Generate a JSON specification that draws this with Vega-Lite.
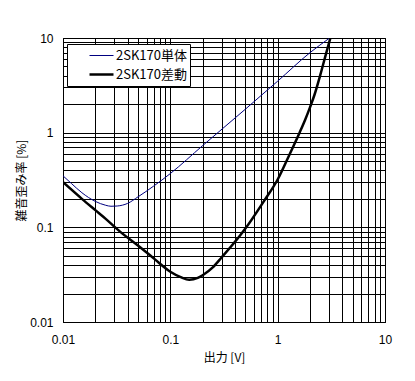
{
  "$schema": "https://vega.github.io/schema/vega-lite/v6.json",
  "width": 322,
  "height": 284,
  "autosize": "none",
  "padding": {"left": 63, "top": 38, "right": 30, "bottom": 59},
  "background": "white",
  "config": {
    "view": {"stroke": "black", "strokeWidth": 1},
    "axis": {
      "grid": true,
      "gridColor": "black",
      "gridOpacity": 1,
      "gridWidth": 1,
      "domainColor": "black",
      "ticks": false,
      "labelFont": "Liberation Sans Narrow, Liberation Sans",
      "labelFontSize": 12,
      "labelColor": "black",
      "labelFlush": false,
      "labelOverlap": false,
      "titleFont": "Noto Sans CJK JP",
      "titleFontSize": 12,
      "titleFontWeight": "normal",
      "titleColor": "black"
    },
    "legend": {
      "orient": "none",
      "legendX": 4,
      "legendY": 6,
      "fillColor": "white",
      "strokeColor": "black",
      "padding": 2,
      "symbolType": "stroke",
      "symbolSize": 576,
      "symbolOffset": 19,
      "labelFont": "Noto Sans CJK JP",
      "labelFontSize": 13,
      "labelColor": "black",
      "labelOffset": 1,
      "clipHeight": 19,
      "rowPadding": 0
    }
  },
  "data": {
    "values": [
      {"series": "2SK170単体", "x": 0.01, "y": 0.35},
      {"series": "2SK170単体", "x": 0.012, "y": 0.29},
      {"series": "2SK170単体", "x": 0.015, "y": 0.232},
      {"series": "2SK170単体", "x": 0.02, "y": 0.188},
      {"series": "2SK170単体", "x": 0.025, "y": 0.171},
      {"series": "2SK170単体", "x": 0.028, "y": 0.167},
      {"series": "2SK170単体", "x": 0.032, "y": 0.168},
      {"series": "2SK170単体", "x": 0.04, "y": 0.179},
      {"series": "2SK170単体", "x": 0.05, "y": 0.21},
      {"series": "2SK170単体", "x": 0.07, "y": 0.273},
      {"series": "2SK170単体", "x": 0.1, "y": 0.37},
      {"series": "2SK170単体", "x": 0.2, "y": 0.73},
      {"series": "2SK170単体", "x": 0.5, "y": 1.77},
      {"series": "2SK170単体", "x": 1, "y": 3.5},
      {"series": "2SK170単体", "x": 2, "y": 7.0},
      {"series": "2SK170単体", "x": 3.05, "y": 10},
      {"series": "2SK170差動", "x": 0.01, "y": 0.3},
      {"series": "2SK170差動", "x": 0.015, "y": 0.2},
      {"series": "2SK170差動", "x": 0.02, "y": 0.152},
      {"series": "2SK170差動", "x": 0.025, "y": 0.123},
      {"series": "2SK170差動", "x": 0.034, "y": 0.09},
      {"series": "2SK170差動", "x": 0.052, "y": 0.062},
      {"series": "2SK170差動", "x": 0.07, "y": 0.047},
      {"series": "2SK170差動", "x": 0.1, "y": 0.034},
      {"series": "2SK170差動", "x": 0.125, "y": 0.0298},
      {"series": "2SK170差動", "x": 0.15, "y": 0.0279},
      {"series": "2SK170差動", "x": 0.18, "y": 0.0292},
      {"series": "2SK170差動", "x": 0.2, "y": 0.0312},
      {"series": "2SK170差動", "x": 0.25, "y": 0.038},
      {"series": "2SK170差動", "x": 0.3, "y": 0.048},
      {"series": "2SK170差動", "x": 0.45, "y": 0.083},
      {"series": "2SK170差動", "x": 0.5, "y": 0.097},
      {"series": "2SK170差動", "x": 0.74, "y": 0.187},
      {"series": "2SK170差動", "x": 1, "y": 0.32},
      {"series": "2SK170差動", "x": 1.3, "y": 0.6},
      {"series": "2SK170差動", "x": 1.6, "y": 1.0},
      {"series": "2SK170差動", "x": 1.8, "y": 1.36},
      {"series": "2SK170差動", "x": 2.0, "y": 1.85},
      {"series": "2SK170差動", "x": 2.2, "y": 2.5},
      {"series": "2SK170差動", "x": 2.5, "y": 4.1},
      {"series": "2SK170差動", "x": 2.8, "y": 6.6},
      {"series": "2SK170差動", "x": 3.1, "y": 10}
    ]
  },
  "mark": {"type": "line", "interpolate": "monotone", "clip": true},
  "encoding": {
    "x": {
      "field": "x",
      "type": "quantitative",
      "scale": {"type": "log", "domain": [0.01, 10], "nice": false},
      "axis": {
        "title": "出力 [V]",
        "values": [0.01,0.02,0.03,0.04,0.05,0.06,0.07,0.08,0.09,0.1,0.2,0.3,0.4,0.5,0.6,0.7,0.8,0.9,1,2,3,4,5,6,7,8,9,10],
        "format": "~g",
        "labelExpr": "indexof(['0.01','0.1','1','10'], datum.label) >= 0 ? datum.label : ''",
        "labelPadding": 12,
        "titleY": 35,
        "titleBaseline": "middle"
      }
    },
    "y": {
      "field": "y",
      "type": "quantitative",
      "scale": {"type": "log", "domain": [0.01, 10], "nice": false},
      "axis": {
        "title": "雑音歪み率 [%]",
        "values": [0.01,0.02,0.03,0.04,0.05,0.06,0.07,0.08,0.09,0.1,0.2,0.3,0.4,0.5,0.6,0.7,0.8,0.9,1,2,3,4,5,6,7,8,9,10],
        "format": "~g",
        "labelExpr": "indexof(['0.01','0.1','1','10'], datum.label) >= 0 ? datum.label : ''",
        "labelPadding": 10,
        "titleX": -42,
        "titleY": 142,
        "titleAngle": -90,
        "titleBaseline": "middle",
        "titleAlign": "center"
      }
    },
    "color": {
      "field": "series",
      "type": "nominal",
      "scale": {"domain": ["2SK170単体", "2SK170差動"], "range": ["#000080", "#000000"]},
      "legend": {"title": null}
    },
    "strokeWidth": {
      "field": "series",
      "type": "nominal",
      "scale": {"domain": ["2SK170単体", "2SK170差動"], "range": [1, 2.5]},
      "legend": {"title": null}
    }
  }
}
